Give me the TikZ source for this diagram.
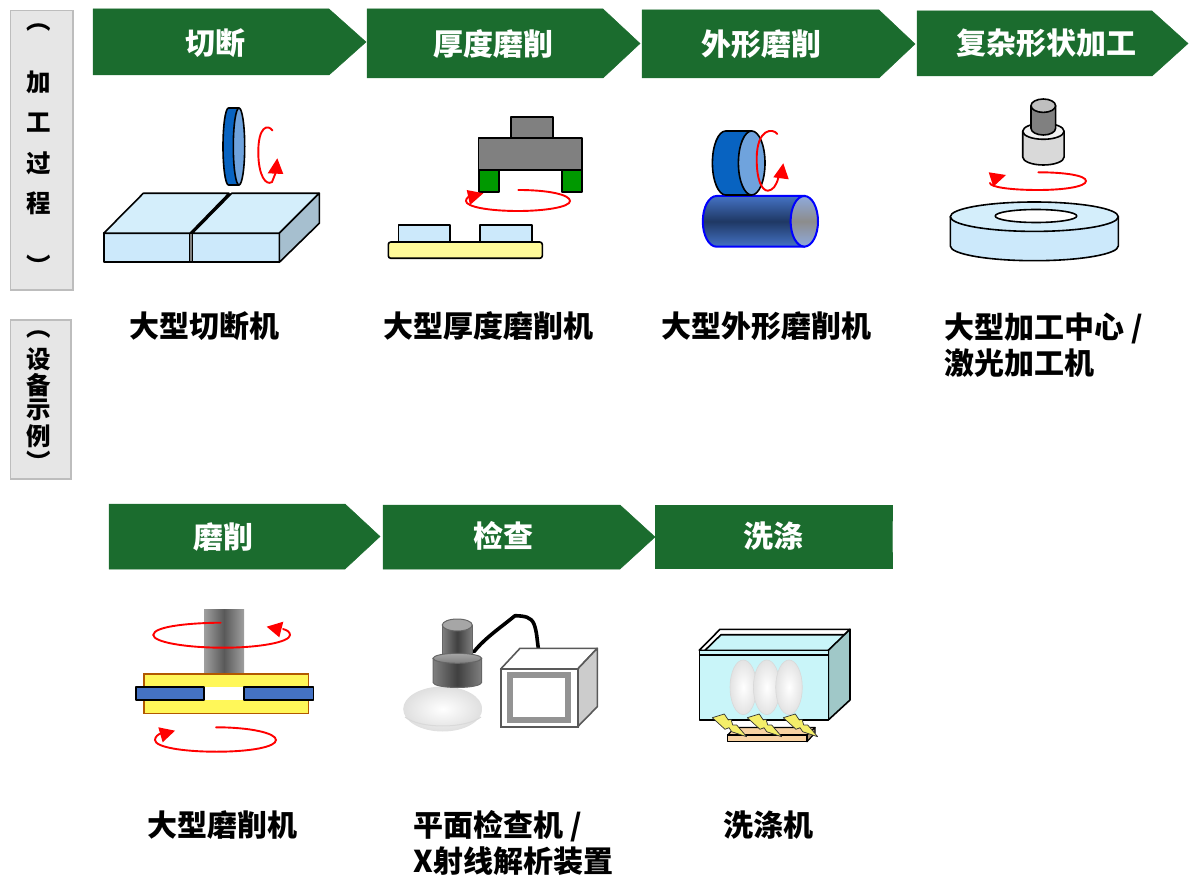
\documentclass[tikz,border=0pt]{standalone}
\usepackage{fontspec}
\setmainfont{Noto Sans CJK SC}
\definecolor{hdgreen}{HTML}{1B6C2E}
\definecolor{sidegray}{HTML}{E6E6E6}
\definecolor{sideedge}{HTML}{BDBDBD}
\definecolor{blockblue}{HTML}{CCE9FB}
\definecolor{blocktop}{HTML}{D4EEFB}
\definecolor{blockside}{HTML}{A6BFCF}
\definecolor{wheeldark}{HTML}{0863C1}
\definecolor{wheellight}{HTML}{6FA3DD}
\definecolor{rollmid}{HTML}{1F3864}
\definecolor{rolledge}{HTML}{4472C4}
\definecolor{rollend}{HTML}{8FAADC}
\definecolor{tankblue}{HTML}{C9F5F9}
\definecolor{tankside}{HTML}{A0C8C8}
\definecolor{woodtone}{HTML}{F9D3A3}
\definecolor{boltyellow}{HTML}{F4EE6A}
\definecolor{tablegreen}{HTML}{009900}
\tikzset{
    sidebox/.style={draw=sideedge,fill=sidegray,line width=1.5pt},
    sidetext/.style={font=\bfseries\fontsize{24.5}{24}\selectfont,inner sep=0pt},
    hdbox/.style={fill=hdgreen,draw=hdgreen,line width=0.5pt},
    hdtext/.style={font=\bfseries\fontsize{30}{36}\selectfont,text=white,inner sep=0pt},
    label/.style={font=\bfseries\fontsize{30}{36}\selectfont,inner sep=0pt,anchor=west,align=left},
    part/.style={draw=black,line width=1.6pt,line join=round},
    rotline/.style={draw=red,line width=1.9pt,line cap=round},
    rothead/.style={fill=red},
}
\begin{document}
\begin{tikzpicture}[x=1pt,y=-1pt]
    \useasboundingbox (0,0) rectangle (1200,882);
    % side boxes
    \draw[sidebox] (10.5,10.5) rectangle (73,290);
    \draw[sidebox] (10.5,320) rectangle (71,479);
    \node[sidetext] (sa) at (38.5,28) {︵};
    \node[sidetext] (sb) at (38.5,82) {加};
    \node[sidetext] (sc) at (38.5,123) {工};
    \node[sidetext] (sd) at (38.5,163) {过};
    \node[sidetext] (se) at (38.5,203) {程};
    \node[sidetext] (sf) at (38.5,265) {︶};
    \node[sidetext] (ta) at (38.5,335) {︵};
    \node[sidetext] (tb) at (38.5,359) {设};
    \node[sidetext] (tc) at (38.5,385) {备};
    \node[sidetext] (td) at (38.5,410) {示};
    \node[sidetext] (te) at (38.5,436) {例};
    \node[sidetext] (tf) at (38.5,461) {︶};
    % process headers
    \foreach \xa/\xb/\xc/\ya/\yb/\xt/\yt/\nm/\txt in {
        93/329/366/9/75/215/43/cut/切断,
        367/603/640/9/78/493/44/thick/厚度磨削,
        642/879/915/10/78/761/44/outer/外形磨削,
        917/1152/1188/11/76/1046/43/shape/复杂形状加工,
        109/345/380/504/569/223/537/grind/磨削,
        383/620/655/505/569/503/536/check/检查,
        655/892/892/505/568/773/536/wash/洗涤} {
        \draw[hdbox] (\xa,\ya) -- (\xb,\ya) -- (\xc,{(\ya+\yb)/2}) -- (\xb,\yb) -- (\xa,\yb) -- cycle;
        \node[hdtext] (hd\nm) at (\xt,\yt) {\txt};
    }
    % machine names
    \node[label] (lcut) at (129.5,326) {大型切断机};
    \node[label] (lthick) at (383.5,326) {大型厚度磨削机};
    \node[label] (louter) at (661.5,326) {大型外形磨削机};
    \node[label] (lshape) at (944.5,345) {大型加工中心 /\\激光加工机};
    \node[label] (lgrind) at (147.5,825) {大型磨削机};
    \node[label] (lcheck) at (413.5,843) {平面检查机 /\\X射线解析装置};
    \node[label] (lwash) at (723.5,825) {洗涤机};
    % cutting
    \draw[part,fill=wheeldark] (228.5,108) -- (239,108) -- (239,185) -- (228.5,185) arc[start angle=90,end angle=270,x radius=5.5,y radius=38.5] -- cycle;
    \draw[part,fill=wheellight] (239,146.5) ellipse [x radius=5.7,y radius=38.5];
    \draw[rotline] (272.5,130.5) .. controls (268,124) and (258,126) .. (258.3,153) .. controls (258.5,176) and (266,186) .. (272,182) -- (276,172);
    \fill[rothead] (277.3,158.3) -- (267.7,173.3) -- (283.3,174) -- cycle;
    \draw[part,fill=blockblue] (103.7,233.3) rectangle (189.5,262.3);
    \draw[part,fill=gray] (189.5,233.3) rectangle (192.3,262.3);
    \draw[part,fill=blockblue] (192.3,233.3) rectangle (279.3,262.3);
    \draw[part,fill=blocktop] (103.7,233.3) -- (143.3,193.3) -- (229,193.3) -- (190,233.3) -- cycle;
    \draw[part,fill=blocktop] (192.3,233.3) -- (231.7,193.3) -- (319.3,193.3) -- (279.3,233.3) -- cycle;
    \fill[black] (190,233.3) -- (229,193.3) -- (231.7,193.3) -- (192.3,233.3) -- cycle;
    \draw[part,fill=blockside] (279.3,233.3) -- (319.3,193.3) -- (319.3,223.3) -- (279.3,262.3) -- cycle;
    % thickness grinding
    \draw[part,fill=gray] (510.7,117.3) rectangle (552.7,138.3);
    \draw[part,fill=gray] (478.3,138.3) rectangle (582,170);
    \draw[part,fill=tablegreen] (479,170) rectangle (499,192.3);
    \draw[part,fill=tablegreen] (562,170) rectangle (582,192.3);
    \draw[rotline] (518.3,190) .. controls (550,190) and (570,195) .. (570,201) .. controls (570,207) and (545,211) .. (518,211) .. controls (490,211) and (466,207) .. (466,201) .. controls (466,198) and (469,196) .. (473,195);
    \fill[rothead] (466.7,190) -- (483.3,193.3) -- (470,205) -- cycle;
    \draw[part,fill=yellow!40,rounded corners=2.5pt] (388.3,242) rectangle (542.3,258.3);
    \draw[part,fill=blockblue] (398.3,225.3) rectangle (449.7,242);
    \draw[part,fill=blockblue] (480,225.3) rectangle (531.7,242);
    % outer grinding
    \draw[draw=blue,line width=2pt,top color=rolledge,bottom color=rolledge,middle color=rollmid] (716.5,196) -- (804.3,196) -- (804.3,246.7) -- (716.5,246.7) arc[start angle=90,end angle=270,x radius=13.7,y radius=25.35] -- cycle;
    \draw[draw=blue,line width=2pt,top color=rollend,bottom color=rollend,middle color=gray!90] (804.3,221.3) ellipse [x radius=13.7,y radius=25.3];
    \draw[part,fill=wheeldark] (725.7,131) -- (751.7,131) -- (751.7,195) -- (725.7,195) arc[start angle=90,end angle=270,x radius=13.3,y radius=32] -- cycle;
    \draw[part,fill=wheellight] (751.7,163) ellipse [x radius=13.3,y radius=32];
    \draw[rotline] (777.3,134) .. controls (773,128) and (757,128) .. (756.7,158.3) .. controls (756.5,180) and (762,191) .. (768,190.7) .. controls (773,190) and (776,186) .. (778.3,178);
    \fill[rothead] (783.3,163.3) -- (773.3,177.3) -- (788.7,179.3) -- cycle;
    % complex shape
    \draw[part,fill=gray!30] (1022.7,131.3) -- (1022.7,157) arc[start angle=180,end angle=0,x radius=20.7,y radius=8] -- (1064.1,131.3) -- cycle;
    \draw[part,fill=gray!10] (1043.4,131.3) ellipse [x radius=20.7,y radius=8];
    \draw[part,fill=gray] (1031,105.7) -- (1031,128.3) arc[start angle=180,end angle=0,x radius=12.3,y radius=6.7] -- (1055.6,105.7) -- cycle;
    \draw[part,fill=gray!50] (1043.3,105.7) ellipse [x radius=12.3,y radius=6.7];
    \draw[rotline] (1038.3,172.3) .. controls (1065,172.3) and (1086,175.5) .. (1086,181) .. controls (1086,186.5) and (1065,190) .. (1038,190) .. controls (1010,190) and (990,187) .. (990,183);
    \fill[rothead] (988.7,172.3) -- (1006,175) -- (993.3,186.7) -- cycle;
    \draw[part,fill=blockblue] (950.3,216.7) -- (950.3,246) arc[start angle=180,end angle=0,x radius=84,y radius=14.7] -- (1118.3,216.7) -- cycle;
    \draw[part,fill=blocktop] (1034.3,216.7) ellipse [x radius=84,y radius=14.7];
    \draw[part,fill=white] (1036,216) ellipse [x radius=40.8,y radius=6.5];
    % grinding
    \fill[left color=gray!75,right color=gray!75,middle color=black!65] (204,609.3) rectangle (244,674);
    \draw[rotline] (220.7,622.7) .. controls (185,623) and (153.3,627) .. (153.3,635) .. controls (153.3,642) and (185,647.7) .. (223.3,647.7) .. controls (260,647.7) and (290,642) .. (290,635) .. controls (290,632) and (287,630) .. (283,629);
    \fill[rothead] (266.7,626.7) -- (283.3,621.7) -- (279.3,637.3) -- cycle;
    \draw[draw=orange!70!black,line width=1.5pt,fill=yellow!65] (144,674) rectangle (308.3,713.3);
    \fill[white] (204,686.7) rectangle (244,700);
    \draw[part,fill=rolledge] (135.7,686.7) rectangle (204,700);
    \draw[part,fill=rolledge] (244,686.7) rectangle (313.3,700);
    \draw[rotline] (216,727.3) .. controls (250,727.3) and (276,733) .. (276,740) .. controls (276,747) and (250,751.7) .. (216.7,751.7) .. controls (182,751.7) and (155,747) .. (155,740) .. controls (155,737) and (158,734) .. (162,733);
    \fill[rothead] (158.3,727.3) -- (175,730.7) -- (162.7,742.3) -- cycle;
    % inspection
    \shade[inner color=white,outer color=gray!25] (442.7,709) ellipse [x radius=39.5,y radius=22.5];
    \draw[gray!30,line width=1pt] (405,717) .. controls (420,729) and (465,729) .. (481,717);
    \draw[black,line width=3.6pt,line join=round,line cap=round] (474,651.7) .. controls (485,638) and (500,628) .. (515,615.7) .. controls (525,616) and (531,617) .. (534,624) .. controls (537,632) and (537,640) .. (538.3,648);
    \draw[draw=gray!80!black,line width=1pt,left color=gray,right color=gray,middle color=black!75] (442.3,625) -- (442.3,660) -- (472.3,660) -- (472.3,625) -- cycle;
    \draw[draw=gray!80!black,line width=1pt,fill=gray!70] (457.3,625) ellipse [x radius=15,y radius=6];
    \draw[draw=gray!80!black,line width=1pt,left color=gray,right color=gray,middle color=black!75] (433,658.3) -- (433,682.5) arc[start angle=180,end angle=0,x radius=24.3,y radius=5] -- (481.6,658.3) -- cycle;
    \draw[draw=gray!80!black,line width=1pt,top color=gray!70,bottom color=gray] (457.3,658.3) ellipse [x radius=24.3,y radius=5];
    \draw[draw=black!65,line width=1.6pt,line join=round,fill=white] (500.7,669) -- (520,648.3) -- (597.3,648.3) -- (577.7,669) -- cycle;
    \draw[draw=black!65,line width=1.6pt,line join=round,fill=gray!40] (577.7,669) -- (597.3,648.3) -- (597.3,706.7) -- (577.7,726.7) -- cycle;
    \draw[draw=black!65,line width=1.6pt,fill=white] (500.7,669) rectangle (577.7,726.7);
    \fill[gray!85] (506.7,671.7) rectangle (570.7,722.7);
    \fill[white] (512.7,677.7) rectangle (565.3,716.7);
    % washing
    \draw[part,fill=white] (699.3,650.3) -- (720,629.3) -- (850,629.3) -- (828.3,650.3) -- cycle;
    \draw[part,fill=tankblue] (705,650.3) -- (721,634.7) -- (845.7,634.7) -- (828.3,650.3) -- cycle;
    \draw[part,fill=tankside] (828.3,650.3) -- (850,629.3) -- (850,700) -- (828.3,720) -- cycle;
    \draw[part,fill=tankblue] (699.3,650.3) rectangle (828.3,720);
    \draw[part,line width=1.2pt] (699.3,655) -- (828.3,655);
    \foreach \xl in {743.3,766.7,789} {
        \shade[draw=gray!30,line width=0.6pt,inner color=white,outer color=gray!22] (\xl,687.3) ellipse [x radius=13.3,y radius=27.3];
    }
    \draw[part,line width=1.2pt,fill=woodtone] (727.7,735) -- (735,727.5) -- (815,727.5) -- (807,735) -- cycle;
    \draw[part,line width=1.2pt,fill=woodtone!70!black] (807,735) -- (815,727.5) -- (815,733) -- (807,741.7) -- cycle;
    \draw[part,line width=1.2pt,fill=woodtone] (727.7,735) rectangle (807,741.7);
    \foreach \sx in {0,35,71} {
        \draw[draw=black!80,line width=0.7pt,line join=round,fill=boltyellow,shift={(\sx,0)}] (712.3,717.7) -- (724.3,714) -- (728.3,720) -- (731,719.3) -- (732.7,725) -- (736.7,725) -- (746.7,736.7) -- (731.7,731.7) -- (729,727.7) -- (725,729.3) -- cycle;
    }
\end{tikzpicture}
\end{document}
